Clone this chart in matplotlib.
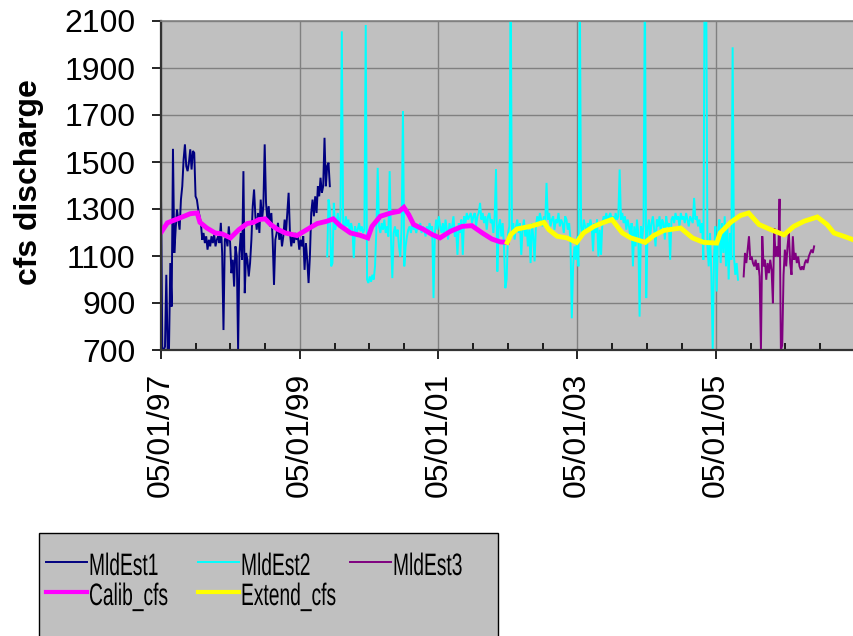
import pandas as pd
import matplotlib
matplotlib.use('Agg')
import matplotlib.pyplot as plt
import matplotlib.dates as mdates
from matplotlib import font_manager
from matplotlib.font_manager import FontProperties
from matplotlib.lines import Line2D
from matplotlib.patches import Rectangle, PathPatch
from matplotlib.textpath import TextPath
from matplotlib.transforms import Affine2D


# weekly model estimates, cfs
mld1_start = '1997-05-01'
mld1 = [1354, 700, 700, 714, 1020, 700, 700, 1070, 885, 1556,
        1113, 1212, 1298, 1255, 1212, 1340, 1397, 1511, 1575, 1482,
        1461, 1497, 1554, 1468, 1547, 1539, 1354, 1340, 1298, 1269,
        1241, 1169, 1198, 1155, 1184, 1127, 1169, 1141, 1184, 1155,
        1191, 1141, 1169, 1184, 1155, 1241, 1113, 785, 1169, 1184,
        1141, 1226, 1155, 1027, 1084, 970, 1141, 1100, 700, 1113,
        1198, 1084, 1461, 942, 1113, 1084, 1013, 1070, 1169, 1312,
        1383, 1269, 1212, 1283, 1198, 1340, 1255, 1312, 1575, 1326,
        1255, 1312, 1226, 1283, 1169, 977, 1169, 1198, 1241, 1169,
        1212, 1141, 1184, 1255, 1198, 1283, 1369, 1198, 1141, 1184,
        1155, 1198, 1169, 1184, 1127, 1169, 1141, 1184, 1041, 1155,
        1084, 985, 1098, 1283, 1340, 1269, 1354, 1283, 1397, 1354,
        1433, 1369, 1397, 1603, 1397, 1482, 1497, 1397]

mld2_start = '1999-09-23'
mld2 = [1098, 1340, 1300, 1056, 1070, 1326, 1212, 1240, 1283, 1226,
        1255, 2056, 1240, 1212, 1269, 1226, 1255, 1198, 1240, 1212,
        1091, 1226, 1198, 1212, 1240, 1205, 1226, 1198, 1212, 2083,
        1000, 985, 1013, 990, 1020, 1000, 1056, 1212, 1475, 1226,
        1198, 1240, 1212, 1255, 1198, 1226, 1183, 1461, 1170, 1006,
        1198, 1226, 1183, 1212, 1141, 1098, 1226, 1717, 1056, 1141,
        1183, 1212, 1226, 1198, 1240, 1212, 1226, 1198, 1226, 1212,
        1240, 1198, 1226, 1212, 1183, 1226, 1198, 1240, 1212, 1226,
        921, 1198, 1255, 1212, 1269, 1226, 1198, 1240, 1183, 1255,
        1212, 1170, 1240, 1198, 1226, 1269, 1183, 1212, 1105, 1240,
        1198, 1255, 1105, 1269, 1240, 1283, 1255, 1269, 1283, 1240,
        1269, 1283, 1226, 1269, 1283, 1326, 1255, 1283, 1240, 1269,
        1212, 1269, 1283, 1240, 1255, 1198, 1269, 1468, 1034, 1226,
        1255, 1183, 1240, 1141, 963, 1000, 1198, 1226, 2300, 1198,
        1240, 1170, 1226, 1255, 1198, 1240, 1105, 1212, 1255, 1183,
        1226, 1141, 1212, 1070, 1240, 1183, 1077, 1226, 1269, 1240,
        1283, 1255, 1226, 1269, 1240, 1411, 1255, 1283, 1226, 1255,
        1269, 1212, 1255, 1240, 1283, 1226, 1255, 1240, 1198, 1269,
        1255, 1212, 1240, 1170, 835, 1056, 1141, 1084, 1183, 1056,
        2300, 1226, 1183, 1255, 1226, 1198, 1240, 1212, 1255, 1226,
        1120, 1240, 1198, 1255, 1098, 1212, 1105, 1240, 1269, 1255,
        1283, 1240, 1269, 1283, 1255, 1269, 1240, 1283, 1255, 1269,
        1468, 1255, 1283, 1240, 1269, 1212, 1255, 1226, 1183, 1240,
        1056, 1226, 1141, 1255, 1198, 842, 1226, 1170, 1240, 2300,
        921, 1212, 1255, 1183, 1240, 1269, 1212, 1141, 1255, 1226,
        1269, 1198, 1255, 1240, 1170, 1269, 1226, 1240, 1084, 1255,
        1269, 1240, 1283, 1255, 1269, 1226, 1283, 1255, 1269, 1240,
        1283, 1255, 1226, 1269, 1255, 1240, 1347, 1255, 1269, 1226,
        1255, 1198, 1240, 1084, 2400, 2400, 1141, 1056, 1198, 1020,
        700, 1098, 1226, 949, 1198, 1255, 1070, 1240, 1113, 1269,
        1056, 1226, 1000, 1198, 1084, 1988, 1098, 1020, 1070, 999]

mld3_start = '2005-09-24'
mld3 = [1013, 1113, 1070, 1127, 1184, 1084, 1098, 1070, 1056, 1084,
        1041, 1070, 1013, 700, 1184, 1056, 1084, 999, 1070, 1027,
        1084, 1041, 899, 1219, 1098, 1141, 1098, 1343, 700, 720,
        1020, 1127, 1056, 1141, 1198, 1070, 1020, 1184, 1084, 1113,
        1070, 1098, 1056, 1041, 1056, 1041, 1070, 1084, 1070, 1098,
        1113, 1127, 1113, 1141]

# smoothed series, decimal years
calib_yr = [1997.34, 1997.42, 1997.61, 1997.75, 1997.85, 1997.89, 1997.99,
            1998.11, 1998.21, 1998.33, 1998.45, 1998.57, 1998.66, 1998.74,
            1998.83, 1998.91, 1999.00, 1999.12, 1999.29, 1999.43, 1999.58,
            1999.72, 1999.81, 1999.91, 2000.06, 2000.20, 2000.31, 2000.37,
            2000.49, 2000.64, 2000.76, 2000.83, 2000.90, 2000.97, 2001.12,
            2001.24, 2001.35, 2001.50, 2001.67, 2001.81, 2001.96, 2002.10,
            2002.22, 2002.32]
calib_cfs = [1205, 1241, 1263, 1280, 1283, 1243, 1219, 1198, 1194, 1177,
             1212, 1238, 1243, 1255, 1258, 1234, 1215, 1198, 1187, 1212,
             1238, 1248, 1258, 1229, 1198, 1188, 1177, 1226, 1269, 1283,
             1290, 1307, 1276, 1234, 1212, 1191, 1177, 1205, 1226, 1229,
             1198, 1172, 1160, 1158]

extend_yr = [2002.32, 2002.37, 2002.46, 2002.65, 2002.85, 2002.92, 2003.04,
             2003.18, 2003.32, 2003.42, 2003.57, 2003.71, 2003.83, 2003.98,
             2004.10, 2004.31, 2004.43, 2004.58, 2004.82, 2004.99, 2005.15,
             2005.34, 2005.39, 2005.54, 2005.68, 2005.80, 2005.95, 2006.12,
             2006.31, 2006.45, 2006.60, 2006.79, 2006.93, 2007.03, 2007.17,
             2007.33]
extend_cfs = [1158, 1191, 1215, 1226, 1243, 1212, 1184, 1177, 1158, 1198,
              1226, 1243, 1255, 1198, 1177, 1158, 1187, 1209, 1219, 1177,
              1158, 1155, 1198, 1243, 1272, 1283, 1234, 1212, 1190, 1226,
              1248, 1266, 1234, 1198, 1184, 1167]

tick_dates = ['1997-05-01', '1999-05-01', '2001-05-01', '2003-05-01',
              '2005-05-01']
y_ticks = [700, 900, 1100, 1300, 1500, 1700, 1900, 2100]


def year_to_date(years):
    base = pd.Timestamp('1997-01-01')
    return [base + pd.Timedelta(days=(y - 1997) * 365.25) for y in years]


def weekly(start, values):
    return pd.date_range(start, periods=len(values), freq='7D')


names = {f.name for f in font_manager.fontManager.ttflist}
if 'Liberation Sans Narrow' in names:
    tick_font, y_size, x_size = 'Liberation Sans Narrow', 27, 27
else:
    tick_font, y_size, x_size = 'Liberation Sans', 23, 23
plt.rcParams['font.family'] = [tick_font, 'DejaVu Sans']

W, H = 854, 636
fig = plt.figure(figsize=(W / 100, H / 100), dpi=100)
ax = fig.add_axes([161 / W, 1 - 350 / H, 693 / W, 329 / H])
ax.set_facecolor('#C0C0C0')

series = [
    ('MldEst1', weekly(mld1_start, mld1), mld1, '#000080', 1.4),
    ('MldEst2', weekly(mld2_start, mld2), mld2, '#00FFFF', 1.4),
    ('MldEst3', weekly(mld3_start, mld3), mld3, '#800080', 1.4),
    ('Calib_cfs', year_to_date(calib_yr), calib_cfs, '#FF00FF', 3.5),
    ('Extend_cfs', year_to_date(extend_yr), extend_cfs, '#FFFF00', 3.5),
]
for name, x, y, color, lw in series:
    ax.plot(x, y, color=color, lw=lw, label=name, solid_joinstyle='miter')

ax.set_ylim(700, 2100)
ax.set_yticks(y_ticks)
ax.set_xlim(pd.Timestamp('1997-05-01'), pd.Timestamp('2007-04-28'))
ax.set_xticks([pd.Timestamp(d) for d in tick_dates])
ax.xaxis.set_major_formatter(mdates.DateFormatter('%m/%d/%y'))
ax.xaxis.set_minor_locator(mdates.MonthLocator(bymonth=[5, 11]))
ax.grid(True, which='major', color='#808080', lw=1.0)
ax.set_axisbelow(True)

ax.tick_params(axis='y', direction='out', length=6.5, width=1.2, pad=12,
               labelsize=y_size, colors='black')
ax.tick_params(axis='x', which='major', direction='out', length=6.5,
               width=1.2, pad=10, labelsize=x_size, labelrotation=90)
ax.tick_params(axis='x', which='minor', direction='in', length=5, width=1.2)

for side in ['left', 'bottom']:
    ax.spines[side].set_color('#333333')
    ax.spines[side].set_linewidth(1.6)
ax.spines['top'].set_color('#808080')
ax.spines['top'].set_linewidth(1.2)
ax.spines['right'].set_visible(False)

ax.set_ylabel('cfs discharge', family='Liberation Sans', fontsize=23,
              fontweight='bold', va='center')
ax.yaxis.set_label_coords(-0.19, 0.51)


# legend box drawn in figure pixels, cut off at the bottom like the original
def fx(px):
    return px / W


def fy(py):
    return 1 - py / H


fig.add_artist(Rectangle((fx(39), fy(645)), fx(498) - fx(39),
                         fy(533) - fy(645), transform=fig.transFigure,
                         facecolor='#C0C0C0', edgecolor='black', lw=1.0))
slots = [(46, 562), (46, 592), (198, 562), (198, 592), (350, 562)]
order = [0, 3, 1, 4, 2]
leg_prop = FontProperties(family='Liberation Sans')
for (hx, hy), k in zip(slots, order):
    name, _, _, color, lw = series[k]
    fig.add_artist(Line2D([fx(hx), fx(hx + 41)], [fy(hy), fy(hy)],
                          transform=fig.transFigure, color=color,
                          lw=1.4 if lw < 2 else 3.0))
    # the legend font is tall and narrow: draw it as a squeezed text path
    tp = TextPath((0, 0), name, size=31, prop=leg_prop)
    squeeze = Affine2D().scale(0.62, 1.0).translate(hx + 43, H - (hy + 13))
    fig.add_artist(PathPatch(tp, transform=squeeze, facecolor='black',
                             edgecolor='none'))

fig.savefig('out.png', dpi=100)
